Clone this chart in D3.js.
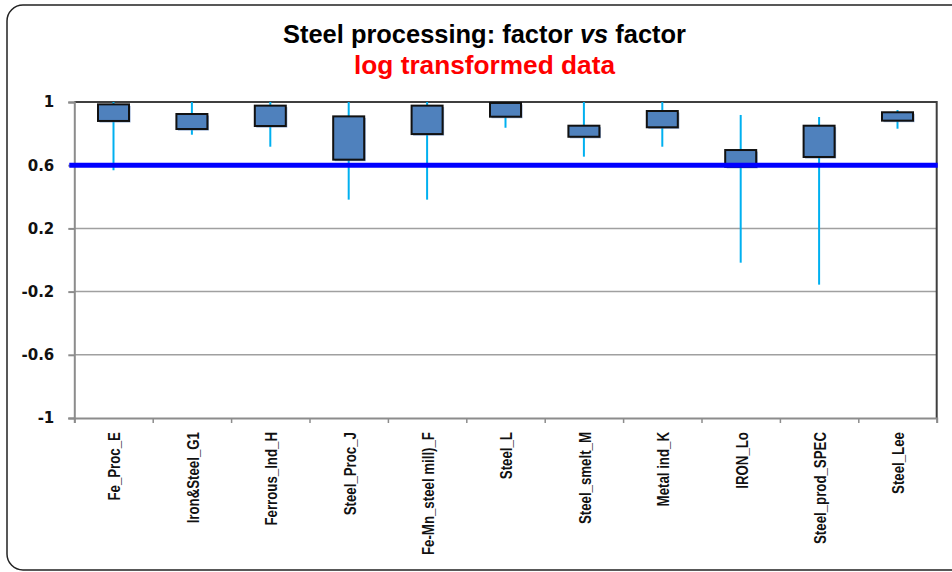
<!DOCTYPE html>
<html>
<head>
<meta charset="utf-8">
<script src="https://cdn.jsdelivr.net/npm/d3@7"></script>
<style>
  html, body { margin: 0; padding: 0; background: #fff; }
  svg { display: block; }
</style>
</head>
<body>
<svg id="chart" width="952" height="572"></svg>
<script>
// ---- data ----
const categories = ["Fe_Proc_E", "Iron&Steel_G1", "Ferrous_Ind_H", "Steel_Proc_J", "Fe-Mn_steel mill)_F",
  "Steel_L", "Steel_smelt_M", "Metal ind_K", "IRON_Lo", "Steel_prod_SPEC", "Steel_Lee"];
const whiskerLow  = [0.568, 0.793, 0.717, 0.382, 0.382, 0.837, 0.654, 0.717, -0.017, -0.156, 0.831];
const boxLow      = [0.880, 0.829, 0.848, 0.635, 0.797, 0.907, 0.780, 0.840, 0.590, 0.652, 0.882];
const boxHigh     = [0.985, 0.924, 0.977, 0.909, 0.977, 0.994, 0.850, 0.943, 0.696, 0.850, 0.935];
const whiskerHigh = [1.000, 1.000, 1.000, 1.000, 1.000, 1.000, 1.000, 1.000, 0.918, 0.905, 0.949];
const referenceValue = 0.6;
const yTicks = [1, 0.6, 0.2, -0.2, -0.6, -1];
const yTickLabels = ["1", "0.6", "0.2", "-0.2", "-0.6", "-1"];
const titleText = ["Steel processing: factor ", "vs", " factor"];
const subtitleText = "log transformed data";

// ---- layout ----
const svg = d3.select("#chart");
const L = 74.3, R = 936.7, T = 102, B = 418;

// outer rounded frame
svg.append("rect").attr("x", 7).attr("y", 5).attr("width", 960).attr("height", 565)
  .attr("rx", 16).attr("ry", 16).attr("fill", "none").attr("stroke", "#222").attr("stroke-width", 1.5);

const x = d3.scaleBand().domain(categories).range([L, R]).paddingInner(0).paddingOuter(0);
const y = d3.scaleLinear().domain([-1, 1]).range([B, T]);

const rows = categories.map((c, i) => ({
  c, wl: whiskerLow[i], bl: boxLow[i], bh: boxHigh[i], wh: whiskerHigh[i]
}));

// gridlines
svg.append("g").selectAll("line").data(yTicks.filter(v => v !== 1 && v !== -1))
  .join("line")
  .attr("x1", L).attr("x2", R)
  .attr("y1", d => y(d)).attr("y2", d => y(d))
  .attr("stroke", "#a0a0a0").attr("stroke-width", 1.5);

// plot border top/right
svg.append("path")
  .attr("d", `M${L},${y(1)}H${R}V${y(-1)}`)
  .attr("fill", "none").attr("stroke", "#3f3f3f").attr("stroke-width", 2);

// y axis
const yAxis = d3.axisLeft(y).tickValues(yTicks).tickSize(6).tickPadding(14)
  .tickFormat((d, i) => yTickLabels[i]);
const gy = svg.append("g").attr("transform", `translate(${L},0)`).call(yAxis);
gy.select(".domain").attr("stroke", "#8c8c8c").attr("stroke-width", 2);
gy.selectAll(".tick line").attr("stroke", "#8c8c8c").attr("stroke-width", 2);
gy.selectAll(".tick text").attr("font-family", "DejaVu Sans, Verdana, sans-serif")
  .attr("font-weight", "bold").attr("font-size", 15).attr("fill", "#111");

// x axis (bottom line + boundary ticks)
const xb = d3.scaleLinear().domain([0, categories.length]).range([L, R]);
const gxTicks = svg.append("g").attr("transform", `translate(0,${B})`)
  .call(d3.axisBottom(xb).tickValues(d3.range(categories.length + 1))
    .tickSize(5).tickFormat(""));
gxTicks.select(".domain").attr("stroke", "#8c8c8c").attr("stroke-width", 2);
gxTicks.selectAll(".tick line").attr("stroke", "#8c8c8c").attr("stroke-width", 1.5);

const gx = svg.append("g").attr("transform", `translate(0,${B})`)
  .call(d3.axisBottom(x).tickSize(0).tickPadding(0));
gx.select(".domain").remove();
gx.selectAll(".tick text")
  .attr("font-family", "'Liberation Sans Narrow', 'Arial Narrow', 'Liberation Sans', sans-serif")
  .attr("font-weight", "bold").attr("font-size", 17).attr("fill", "#111")
  .attr("transform", "rotate(-90) scale(0.78,1)")
  .attr("text-anchor", "end")
  .attr("x", -18).attr("y", 1).attr("dy", "0.35em");

// whiskers
const bw = 31;
svg.append("g").selectAll("line").data(rows).join("line")
  .attr("x1", d => x(d.c) + x.bandwidth() / 2).attr("x2", d => x(d.c) + x.bandwidth() / 2)
  .attr("y1", d => y(d.wh)).attr("y2", d => y(d.wl))
  .attr("stroke", "#00b0f0").attr("stroke-width", 2);

// box shadows
svg.append("g").selectAll("rect").data(rows).join("rect")
  .attr("x", d => x(d.c) + x.bandwidth() / 2 - bw / 2 + 1.5)
  .attr("y", d => y(d.bh) + 1.5)
  .attr("width", bw).attr("height", d => y(d.bl) - y(d.bh))
  .attr("fill", "#5a7fb8").attr("opacity", 0.7);

// boxes
svg.append("g").selectAll("rect").data(rows).join("rect")
  .attr("x", d => x(d.c) + x.bandwidth() / 2 - bw / 2)
  .attr("y", d => y(d.bh))
  .attr("width", bw).attr("height", d => y(d.bl) - y(d.bh))
  .attr("fill", "#4f81bd").attr("stroke", "#111").attr("stroke-width", 2);

// reference line
svg.append("line")
  .attr("x1", L - 5).attr("x2", R + 1)
  .attr("y1", y(referenceValue)).attr("y2", y(referenceValue))
  .attr("stroke", "#0000ff").attr("stroke-width", 5);

// titles
const title = svg.append("text").attr("x", 484.5).attr("y", 43)
  .attr("text-anchor", "middle")
  .attr("font-family", "'Liberation Sans Narrow', 'Arial Narrow', 'Liberation Sans', sans-serif")
  .attr("font-weight", "bold").attr("font-size", 25).attr("fill", "#000");
title.append("tspan").text(titleText[0]);
title.append("tspan").attr("font-style", "italic").text(titleText[1]);
title.append("tspan").text(titleText[2]);
title.attr("textLength", 403).attr("lengthAdjust", "spacingAndGlyphs");

svg.append("text").attr("x", 484.5).attr("y", 74)
  .attr("text-anchor", "middle")
  .attr("font-family", "'Liberation Sans Narrow', 'Arial Narrow', 'Liberation Sans', sans-serif")
  .attr("font-weight", "bold").attr("font-size", 25).attr("fill", "#ff0000")
  .attr("textLength", 261).attr("lengthAdjust", "spacingAndGlyphs")
  .text(subtitleText);
</script>
</body>
</html>
